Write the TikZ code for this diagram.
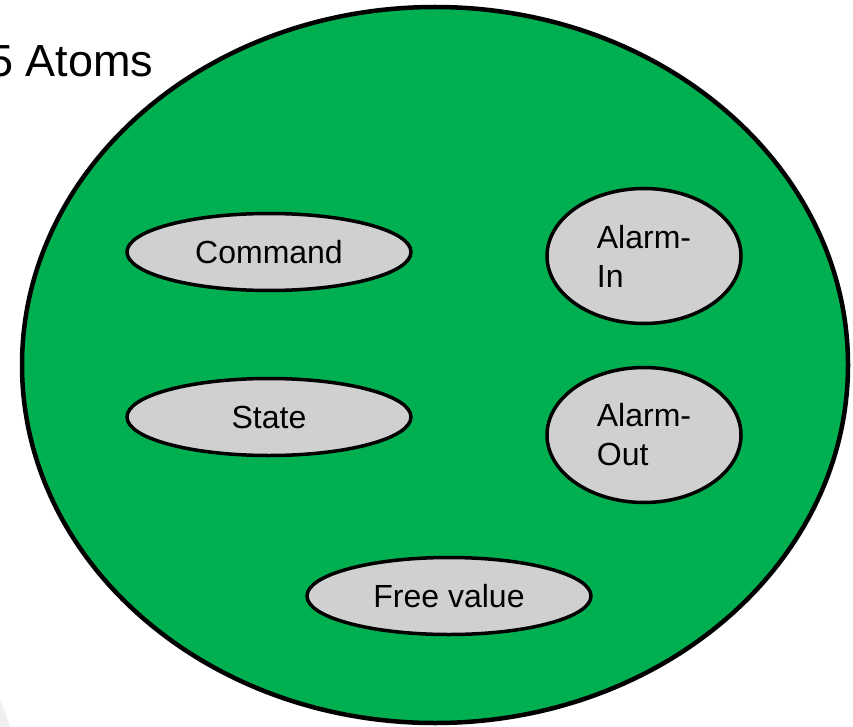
\documentclass[tikz,border=0pt]{standalone}
\usepackage{fontspec}
\setmainfont{Liberation Sans}
\usetikzlibrary{shapes.geometric}
\definecolor{atomgreen}{RGB}{0,176,80}
\definecolor{atomgray}{RGB}{208,208,208}

\begin{document}
\begin{tikzpicture}[x=1pt,y=-1pt,
                      atom/.style={ellipse,draw,line width=3.5pt,fill=atomgray,inner sep=0pt,
                        font=\fontsize{32}{39}\selectfont,align=left},
                      wide/.style={atom,minimum width=284pt,minimum height=77pt},
                      round/.style={atom,minimum width=194pt,minimum height=135pt}]
                      \useasboundingbox (0,0) rectangle (853,727);
                      % faint shadow in the lower left corner
                      \fill[black!6] (0,700) .. controls (5,712) and (8,720) .. (10,727) -- (0,727) -- cycle;
                      % the set holding all five atoms
                      \node[ellipse,draw,line width=4.5pt,fill=atomgreen,minimum width=826pt,
                        minimum height=716pt] (set) at (435,365) {};
                      \node[anchor=base west,inner sep=0pt,font=\fontsize{45}{54}\selectfont] (title) at (-12,77) {5 Atoms};
                      \node[wide] (cmd) at (269,252) {Command};
                      \node[wide] (state) at (269,417) {State};
                      \node[wide] (free) at (449,596) {Free value};
                      \node[round] (al_in) at (644,256) {Alarm-\\In};
                      \node[round] (al_out) at (644,435) {Alarm-\\Out};
                  \end{tikzpicture}
\end{document}
